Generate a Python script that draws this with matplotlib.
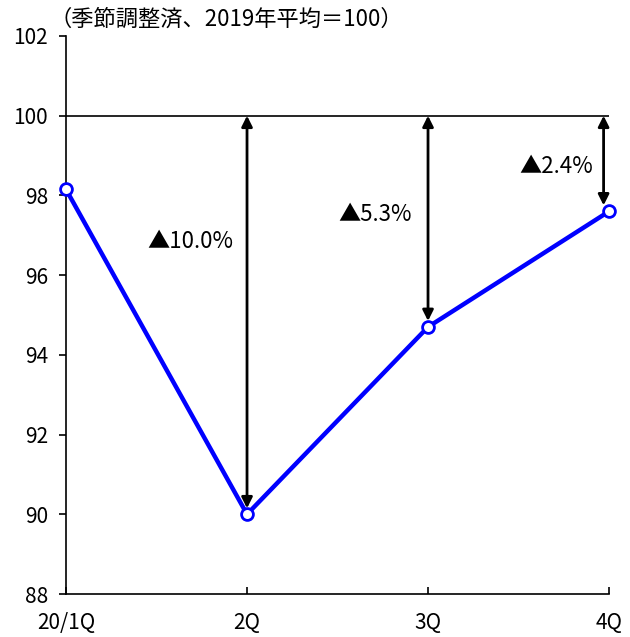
import matplotlib.pyplot as plt

plt.rcParams['font.family'] = ['Noto Sans CJK JP', 'DejaVu Sans']

# データ
quarters = ['20/1Q', '2Q', '3Q', '4Q']
values = [98.15, 90.0, 94.7, 97.6]
base = 100
drop_labels = ['▲10.0%', '▲5.3%', '▲2.4%']

fig = plt.figure(figsize=(6.3, 6.37), dpi=100)
ax = fig.add_axes([0.1048, 0.0675, 0.8619, 0.876])

x = list(range(len(quarters)))
ax.plot(x, values, color='#0000ff', lw=3.2, marker='o', ms=8.5,
        mfc='white', mec='#0000ff', mew=2, zorder=5, clip_on=False)

# 基準線
ax.axhline(base, color='black', lw=1.2, zorder=1)

# 矢印
arrow_x = [1, 2, 2.97]
label_pos = [(0.685, 96.84), (1.707, 97.52), (2.71, 98.72)]
for i in range(1, 4):
    ax.annotate('', xy=(arrow_x[i - 1], values[i] + 0.15), xytext=(arrow_x[i - 1], base),
                arrowprops=dict(arrowstyle='<|-|>', color='black', lw=2,
                                mutation_scale=16, shrinkA=0, shrinkB=0))
    ax.text(label_pos[i - 1][0], label_pos[i - 1][1], drop_labels[i - 1],
            ha='center', va='center', fontsize=16)

ax.set_xlim(0, 3)
ax.set_ylim(88, 102)
ax.set_yticks(range(88, 103, 2))
ax.set_xticks(x)
ax.set_xticklabels(quarters)
ax.tick_params(axis='y', direction='out', length=5, labelsize=15, width=1.2, pad=8)
ax.tick_params(axis='x', direction='in', length=5, labelsize=15, width=1.2, pad=13)
ax.spines['top'].set_visible(False)
ax.spines['right'].set_visible(False)
ax.spines['left'].set_linewidth(1.2)
ax.spines['bottom'].set_linewidth(1.2)

fig.text(0.078, 0.97, '（季節調整済、2019年平均＝100）', fontsize=16, ha='left', va='center')

plt.savefig('out.png', dpi=100)
